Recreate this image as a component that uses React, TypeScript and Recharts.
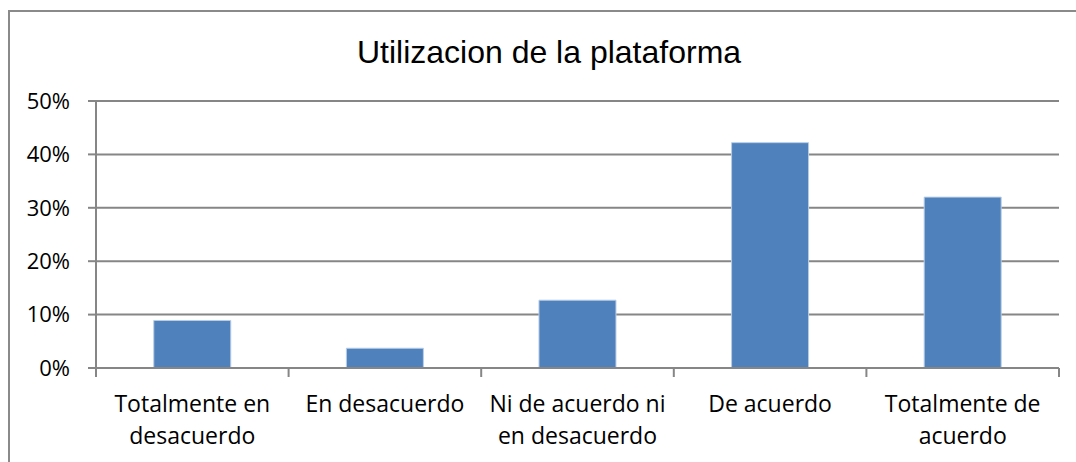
import { BarChart, Bar, XAxis, YAxis, CartesianGrid } from 'recharts';

const categories = [
  ['Totalmente en', 'desacuerdo'],
  ['En desacuerdo'],
  ['Ni de acuerdo ni', 'en desacuerdo'],
  ['De acuerdo'],
  ['Totalmente de', 'acuerdo'],
];
const values = [8.9, 3.7, 12.7, 42.2, 32.0];
const yTicks = [0, 10, 20, 30, 40, 50];

const data = categories.map((lines, i) => ({ name: lines.join(' '), value: values[i] }));

const W = 1076;
const H = 462;
const M = { top: 101, right: 17, bottom: 14, left: 36 };
const Y_W = 60;
const X_H = 80;
const FONT = '"Open Sans", Lato, sans-serif';
const TITLE_FONT = '"Liberation Sans", Arial, sans-serif';
const plotW = W - M.left - M.right - Y_W;
const band = plotW / categories.length;

// x ticks sit between categories, labels wrap on two lines
function XTick(props: any) {
  const { x, y, index } = props;
  const lines = categories[index] || [];
  const top = y - 8;
  return (
    <g>
      <line x1={x - band / 2} x2={x - band / 2} y1={top} y2={top + 9} stroke="#868686" strokeWidth={2} />
      {index === categories.length - 1 && (
        <line x1={x + band / 2} x2={x + band / 2} y1={top} y2={top + 9} stroke="#868686" strokeWidth={2} />
      )}
      <text x={x} y={y + 36} textAnchor="middle" fontSize={23} fill="#000" fontFamily={FONT}>
        {lines.map((l: string, i: number) => (
          <tspan key={i} x={x} dy={i === 0 ? 0 : 32}>
            {l}
          </tspan>
        ))}
      </text>
    </g>
  );
}

export default function App() {
  return (
    <div style={{ position: 'absolute', left: 0, top: 0, width: W, height: H, background: '#fff', overflow: 'hidden' }}>
      <div
        style={{
          position: 'absolute',
          left: 8,
          top: 10,
          width: W,
          height: H,
          border: '2px solid #8a8a8a',
          boxSizing: 'border-box',
        }}
      />
      <svg style={{ position: 'absolute', left: 0, top: 0 }} width={W} height={90}>
        <text x={549} y={63} textAnchor="middle" fontSize={32} fontFamily={TITLE_FONT} fill="#000">
          Utilizacion de la plataforma
        </text>
      </svg>
      <div style={{ position: 'absolute', left: 0, top: 0 }}>
        <BarChart width={W} height={H} data={data} margin={M} barCategoryGap="30%">
          <CartesianGrid vertical={false} stroke="#868686" strokeWidth={2} />
          <XAxis
            dataKey="name"
            interval={0}
            height={X_H}
            axisLine={{ stroke: '#868686', strokeWidth: 2 }}
            tickLine={false}
            tick={<XTick />}
          />
          <YAxis
            domain={[0, 50]}
            ticks={yTicks}
            width={Y_W}
            tickFormatter={(v: number) => `${v}%`}
            axisLine={{ stroke: '#868686', strokeWidth: 2 }}
            tickLine={{ stroke: '#868686', strokeWidth: 2 }}
            tickSize={8}
            tickMargin={18}
            tick={{ fontSize: 22, fill: '#000', fontFamily: FONT }}
          />
          <Bar dataKey="value" fill="#4f81bd" stroke="#b9cde5" strokeWidth={1} isAnimationActive={false} />
        </BarChart>
      </div>
    </div>
  );
}
